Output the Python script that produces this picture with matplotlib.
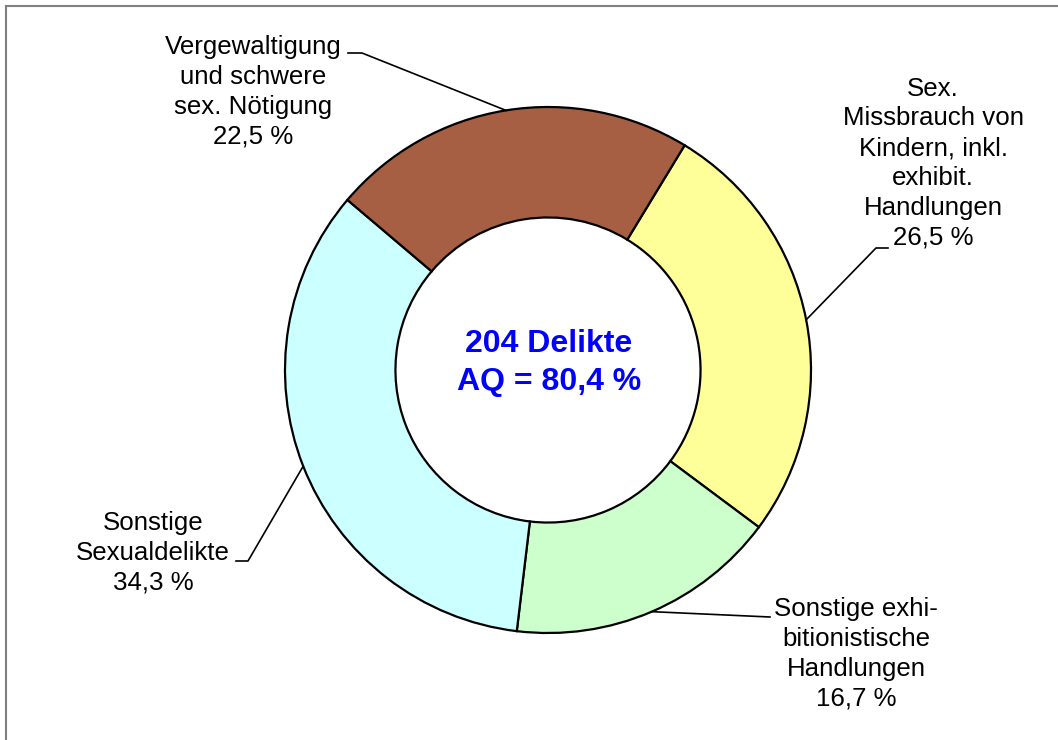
import numpy as np
import matplotlib.pyplot as plt
from matplotlib.lines import Line2D

plt.rcParams['font.family'] = ['Liberation Sans', 'DejaVu Sans']

# data
categories = ['Sex.\nMissbrauch von\nKindern, inkl.\nexhibit.\nHandlungen',
              'Sonstige exhi-\nbitionistische\nHandlungen',
              'Sonstige\nSexualdelikte',
              'Vergewaltigung\nund schwere\nsex. Nötigung']
shares = [26.5, 16.7, 34.3, 22.5]
colors = ['#FFFF99', '#CCFFCC', '#CCFFFF', '#A65F42']
total_cases = 204
aq = 80.4

W, H = 1058, 740
cx, cy, R = 548, 370, 263   # donut centre / radius in pixels

fig = plt.figure(figsize=(W / 100, H / 100), dpi=100)
ax = fig.add_axes([0, 0, 1, 1])

wedges, _ = ax.pie(shares, colors=colors, startangle=58.7, counterclock=False,
                   radius=1, wedgeprops=dict(width=0.42, edgecolor='black', linewidth=1.6))
ax.set_xlim(-cx / R, (W - cx) / R)
ax.set_ylim(-(H - cy) / R, cy / R)
ax.set_aspect('equal', adjustable='datalim')
ax.axis('off')


def px(x, y):
    return (x - cx) / R, (cy - y) / R


# label layout: text centre, leader tail, leader knee (pixels)
layout = [
    ((933, 163), (888, 248), (876, 248)),
    ((856, 654), (770, 617), (770, 617)),
    ((153, 553), (236, 561), (248, 561)),
    ((253, 92), (348, 53), (362, 53)),
]

for w, cat, val, (tpos, tail, knee) in zip(wedges, categories, shares, layout):
    label = cat + '\n' + f'{val:.1f}'.replace('.', ',') + ' %'
    ax.text(*px(*tpos), label, ha='center', va='center', fontsize=18.6,
            linespacing=1.3, color='black')
    mid = np.deg2rad((w.theta1 + w.theta2) / 2)
    ex, ey = np.cos(mid), np.sin(mid)
    t, k = px(*tail), px(*knee)
    ax.plot([t[0], k[0], ex], [t[1], k[1], ey], color='black', lw=1.2)

ax.text(*px(549, 363), f'{total_cases} Delikte\nAQ = ' + f'{aq:.1f}'.replace('.', ',') + ' %',
        ha='center', va='center', fontsize=23, fontweight='bold', color='#0000FF',
        linespacing=1.36)

# outer frame
fig.add_artist(Line2D([6 / W, 1], [1 - 6 / H, 1 - 6 / H], transform=fig.transFigure,
                      color='#808080', lw=1.5))
fig.add_artist(Line2D([6 / W, 6 / W], [0, 1 - 6 / H], transform=fig.transFigure,
                      color='#808080', lw=1.5))

fig.savefig('out.png', dpi=100)
